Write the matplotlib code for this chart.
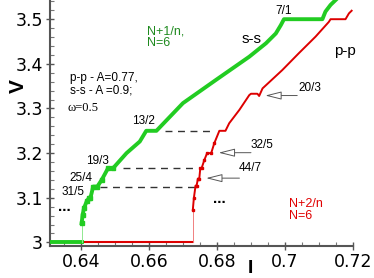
# =========================
# IMPORTS
# =========================

import matplotlib
matplotlib.use("Agg")
import matplotlib.pyplot as plt
from matplotlib.ticker import MultipleLocator, FuncFormatter

# =========================
# DATA
# =========================

# s-s curve (N+1/n), green
green_flat_x = [0.6309, 0.6402]
green_flat_y = [3.0, 3.0]
green_x = [0.6402, 0.6405, 0.6409, 0.6417, 0.6424, 0.6428, 0.6436, 0.6448, 0.6461,
           0.6480, 0.6495, 0.6534, 0.6573, 0.6592, 0.6622, 0.6700, 0.6797, 0.6895,
           0.6944, 0.6973, 0.6988, 0.6997, 0.7110, 0.7119, 0.7134, 0.7149]
green_y = [3.043, 3.062, 3.077, 3.092, 3.100, 3.100, 3.125, 3.125, 3.140,
           3.1667, 3.1667, 3.200, 3.226, 3.25, 3.25, 3.312, 3.364, 3.416,
           3.446, 3.468, 3.487, 3.5, 3.5, 3.517, 3.532, 3.543]

# p-p curve (N+2/n), red
red_flat_x = [0.6309, 0.6729]
red_flat_y = [3.0, 3.0]
red_x = [0.6729, 0.6732, 0.6737, 0.6740, 0.6744, 0.6748, 0.6751, 0.6755, 0.6763,
         0.6771, 0.6783, 0.6792, 0.6807, 0.6825, 0.6836, 0.6866, 0.6895, 0.6900,
         0.6919, 0.6924, 0.6934, 0.6992, 0.7041, 0.7090, 0.7129, 0.7134, 0.7178,
         0.7188, 0.7196]
red_y = [3.073, 3.099, 3.127, 3.127, 3.1429, 3.1429, 3.1667, 3.1667, 3.185,
         3.2, 3.2, 3.222, 3.25, 3.25, 3.267, 3.297, 3.330, 3.333,
         3.333, 3.328, 3.345, 3.386, 3.424, 3.461, 3.494, 3.5, 3.5,
         3.513, 3.519]

# dashed connectors between equal steps
dash_y = [3.25, 3.1667, 3.125]
dash_x0 = [0.6646, 0.6524, 0.6456]
dash_x1 = [0.6793, 0.6744, 0.6734]

xticks = [0.64, 0.66, 0.68, 0.70, 0.72]
yticks = [3.0, 3.1, 3.2, 3.3, 3.4, 3.5]

GREEN = "#22cc22"
RED = "#dd0000"

# =========================
# PLOT
# =========================

fig = plt.figure(figsize=(3.74, 2.78), dpi=100)
ax = fig.add_axes([50 / 374, 32 / 278, 303 / 374, 246 / 278])
plt.rcParams["font.family"] = ["Liberation Sans", "DejaVu Sans"]

ax.plot(red_flat_x, red_flat_y, color=RED, lw=1.5, zorder=2)
ax.plot([red_x[0], red_x[0]], [3.0, red_y[0]], color="#f08080", lw=0.7, zorder=2)
ax.plot(red_x, red_y, color=RED, lw=1.4, zorder=2)
ax.plot(red_x[:12], red_y[:12], ls="none", marker="s", ms=1.6, color=RED, zorder=2)

ax.plot(green_flat_x, green_flat_y, color=GREEN, lw=2.8, zorder=3)
ax.plot([green_x[0], green_x[0]], [3.0, green_y[0]], color="#90e890", lw=0.7, zorder=3)
ax.plot(green_x, green_y, color=GREEN, lw=2.8, zorder=3)
ax.plot(green_x[:11], green_y[:11], ls="none", marker="s", ms=2.6, color=GREEN, zorder=3)

for y, x0, x1 in zip(dash_y, dash_x0, dash_x1):
    ax.plot([x0, x1], [y, y], color="#333333", lw=1.0, ls=(0, (5, 4)), zorder=1)

# =========================
# TEXT AND ARROWS
# =========================

fs = 8.5
ax.text(0.6593, 3.487, "N+1/n,\nN=6", color="#1f8a1f", fontsize=9, ha="left", va="top",
        linespacing=1.0)
ax.text(0.6902, 3.456, "s-s", fontsize=11, ha="center", va="center")
ax.text(0.6997, 3.519, "7/1", fontsize=fs, ha="center", va="center")
ax.text(0.7175, 3.429, "p-p", fontsize=11, ha="center", va="center")
ax.text(0.7073, 3.347, "20/3", fontsize=fs, ha="center", va="center")
ax.text(0.6931, 3.219, "32/5", fontsize=fs, ha="center", va="center")
ax.text(0.6899, 3.167, "44/7", fontsize=fs, ha="center", va="center")
ax.text(0.6583, 3.272, "13/2", fontsize=fs, ha="center", va="center")
ax.text(0.6448, 3.183, "19/3", fontsize=fs, ha="center", va="center")
ax.text(0.6399, 3.145, "25/4", fontsize=fs, ha="center", va="center")
ax.text(0.6378, 3.112, "31/5", fontsize=fs, ha="center", va="center")
ax.text(0.6352, 3.080, "...", fontsize=11, fontweight="bold", ha="center", va="center")
ax.text(0.6807, 3.097, "...", fontsize=11, fontweight="bold", ha="center", va="center")
ax.text(0.7012, 3.100, "N+2/n\nN=6", color="#e00000", fontsize=9, ha="left", va="top",
        linespacing=1.0)
ax.text(0.6368, 3.382, "p-p - A=0.77,\ns-s - A =0.9;", fontsize=8.5, ha="left", va="top",
        linespacing=1.05)
ax.text(0.6359, 3.302, "\u03c9=0.5", fontsize=9, family="Liberation Serif",
        ha="left", va="center")

arrows = [((0.6942, 3.329), (0.7036, 3.329)),
          ((0.6805, 3.201), (0.6900, 3.201)),
          ((0.6768, 3.144), (0.6866, 3.144))]
for tip, tail in arrows:
    ax.annotate("", xy=tip, xytext=tail,
                arrowprops=dict(arrowstyle="-|>,head_length=1.0,head_width=0.25",
                                fc="white", ec="#555555", lw=0.7,
                                shrinkA=0, shrinkB=0))

# =========================
# AXES
# =========================

ax.set_xlim(0.6309, 0.72)
ax.set_ylim(2.992, 3.543)
ax.set_xticks(xticks)
ax.set_yticks(yticks)
ax.xaxis.set_minor_locator(MultipleLocator(0.005))
ax.yaxis.set_minor_locator(MultipleLocator(0.02))
ax.xaxis.set_major_formatter(FuncFormatter(lambda v, p: "%g" % round(v, 3)))
ax.yaxis.set_major_formatter(FuncFormatter(lambda v, p: "%g" % round(v, 3)))
ax.tick_params(which="major", direction="inout", length=6, width=1.0,
               color="#555555", labelsize=12.5, pad=2)
ax.tick_params(which="minor", direction="in", length=3, width=0.8, color="#777777")

for side in ["top", "right"]:
    ax.spines[side].set_visible(False)
for side in ["left", "bottom"]:
    ax.spines[side].set_color("#555555")
    ax.spines[side].set_linewidth(1.5)

ax.text(-0.105, 0.65, "V", rotation=90, fontsize=15, fontweight="bold",
        ha="center", va="center", transform=ax.transAxes)
ax.text(0.663, -0.057, "I", fontsize=14, fontweight="bold",
        ha="center", va="top", transform=ax.transAxes)

fig.savefig("out.png", dpi=100)
